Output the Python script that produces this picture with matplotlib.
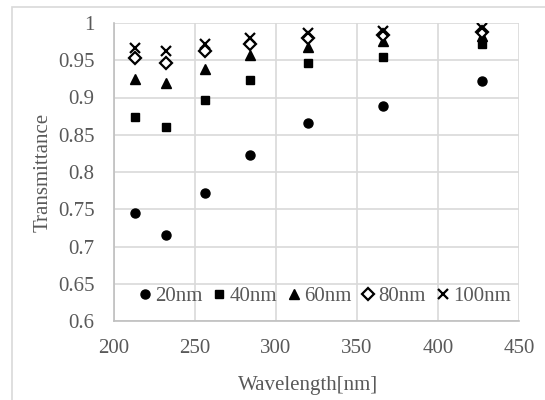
import matplotlib.pyplot as plt
from matplotlib.patches import Rectangle

# Data
wavelength = [213, 232, 256, 284, 320, 366, 427]
t_20nm = [0.745, 0.715, 0.772, 0.823, 0.866, 0.889, 0.922]
t_40nm = [0.874, 0.861, 0.896, 0.923, 0.946, 0.955, 0.972]
t_60nm = [0.925, 0.920, 0.938, 0.957, 0.968, 0.976, 0.982]
t_80nm = [0.953, 0.946, 0.963, 0.972, 0.980, 0.984, 0.988]
t_100nm = [0.966, 0.962, 0.972, 0.980, 0.986, 0.989, 0.993]
labels = ['20nm', '40nm', '60nm', '80nm', '100nm']

plt.rcParams['font.family'] = ['Liberation Serif', 'DejaVu Serif']
grey = '#595959'
fs = 15

fig = plt.figure(figsize=(5.45, 4.0), dpi=100)
# outer chart frame
fig.patches.append(Rectangle((12 / 545, -0.1), 1.2, 1 - 7 / 400 + 0.1,
                             transform=fig.transFigure, fill=False,
                             edgecolor='#d9d9d9', linewidth=1.2))

ax = fig.add_axes([114 / 545, 1 - 321 / 400, 405 / 545, 298 / 400])

ax.plot(wavelength, t_20nm, 'o', color='black', markersize=6.5, label=labels[0])
ax.plot(wavelength, t_40nm, 's', color='black', markersize=6, label=labels[1])
ax.plot(wavelength, t_60nm, '^', color='black', markersize=7, label=labels[2])
ax.plot(wavelength, t_80nm, 'D', markerfacecolor='white', markeredgecolor='black',
        markeredgewidth=1.6, markersize=6, label=labels[3])
ax.plot(wavelength, t_100nm, 'x', color='black', markeredgewidth=1.6,
        markersize=7.5, label=labels[4])

ax.set_xlim(200, 450)
ax.set_ylim(0.6, 1.0)
ax.set_xticks([200, 250, 300, 350, 400, 450])
ax.set_yticks([0.6, 0.65, 0.7, 0.75, 0.8, 0.85, 0.9, 0.95, 1.0])
ax.set_yticklabels(['0.6', '0.65', '0.7', '0.75', '0.8', '0.85', '0.9', '0.95', '1'])
ax.grid(True, color='#d9d9d9', linewidth=1.2)
ax.set_axisbelow(True)

for side in ['top', 'right']:
    ax.spines[side].set_visible(False)
for side in ['left', 'bottom']:
    ax.spines[side].set_color('#bfbfbf')
    ax.spines[side].set_linewidth(1.2)

ax.tick_params(length=0, labelsize=fs, colors=grey)
ax.tick_params(axis='y', pad=14)
ax.tick_params(axis='x', pad=13)
ax.set_xlabel('Wavelength[nm]', fontsize=fs, color=grey)
ax.xaxis.set_label_coords(0.478, -0.215, transform=ax.transAxes)
ax.xaxis.label.set_va('center')
ax.set_ylabel('Transmittance', fontsize=fs, color=grey, labelpad=4)

leg = ax.legend(loc='lower center', bbox_to_anchor=(0.515, 0.0), ncol=5,
                frameon=False, fontsize=fs, handletextpad=0.0,
                columnspacing=0.3, handlelength=1.0, markerscale=1.0,
                borderaxespad=0.3)
for t in leg.get_texts():
    t.set_color(grey)

fig.savefig('out.png', dpi=100)
